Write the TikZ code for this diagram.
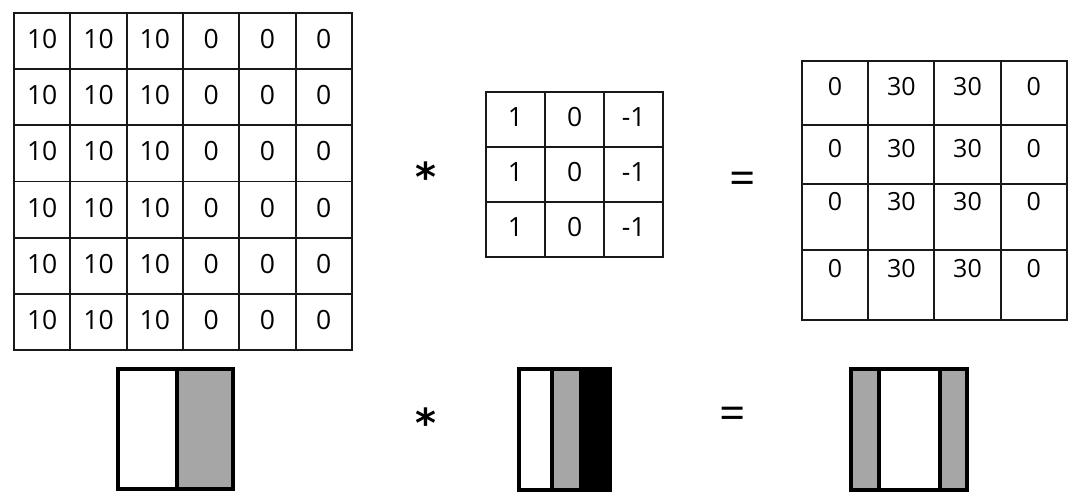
\documentclass[tikz,border=0pt]{standalone}
\usepackage{fontspec}
\setmainfont{Open Sans}
\newfontfamily\symfont{DejaVu Sans}
\begin{document}
\begin{tikzpicture}[x=1pt,y=-1pt,
  gridline/.style={draw=black!90, line width=1.9pt},
  num/.style={inner sep=0pt, font=\fontsize{26.5}{26.5}\selectfont},
  outnum/.style={inner sep=0pt, font=\fontsize{25}{25}\selectfont},
  oper/.style={inner sep=0pt, font=\symfont\bfseries\fontsize{40}{40}\selectfont},
  eqsign/.style={inner sep=0pt, font=\fontsize{46}{46}\selectfont},
  thick box/.style={draw=black, line width=4pt, line join=miter},
  shade/.style={fill=black!35}]
\useasboundingbox (0,0) rectangle (1080,503);
% input image 6x6
\foreach \r in {0,...,5}{
  \foreach \c in {0,...,5}{
    \pgfmathsetmacro\xa{14+56.33*\c}
    \pgfmathsetmacro\xb{14+56.33*(\c+1)}
    \pgfmathsetmacro\ya{13+56.17*\r}
    \pgfmathsetmacro\yb{13+56.17*(\r+1)}
    \pgfmathsetmacro\xm{(\xa+\xb)/2}
    \pgfmathsetmacro\ym{(\ya+\yb)/2-2}
    \draw[gridline] (\xa,\ya) rectangle (\xb,\yb);
    \ifnum\c<3
      \node[num] (in-\r-\c) at (\xm,\ym) {10};
    \else
      \node[num] (in-\r-\c) at (\xm,\ym) {0};
    \fi
  }
}
% filter 3x3
\foreach \r in {0,1,2}{
  \foreach \c/\xa/\xb/\v in {0/485.7/545.3/1, 1/545.3/604.3/0, 2/604.3/663/-1}{
    \pgfmathsetmacro\ya{91.7+55*\r}
    \pgfmathsetmacro\yb{91.7+55*(\r+1)}
    \pgfmathsetmacro\xm{(\xa+\xb)/2}
    \pgfmathsetmacro\ym{(\ya+\yb)/2-2.5}
    \draw[gridline] (\xa,\ya) rectangle (\xb,\yb);
    \node[num] (f-\r-\c) at (\xm,\ym) {\v};
  }
}
% output 4x4
\foreach \r/\ya/\yb/\ym in {0/61/125/86.7, 1/125/184.3/148.7, 2/184.3/250/201.7, 3/250/320/268.3}{
  \foreach \c/\xa/\xb/\v in {0/801.7/868.3/0, 1/868.3/934.3/30, 2/934.3/1000.7/30, 3/1000.7/1066.7/0}{
    \pgfmathsetmacro\xm{(\xa+\xb)/2}
    \draw[gridline] (\xa,\ya) rectangle (\xb,\yb);
    \node[outnum] (o-\r-\c) at (\xm,\ym) {\v};
  }
}
% operators
\node[oper] (star1) at (426,176.5) {*};
\node[eqsign] (eq1) at (743,183) {=};
\node[oper] (star2) at (426,422.5) {*};
\node[eqsign] (eq2) at (732.5,418) {=};
% bottom pictograms
\fill[shade] (177.3,369.3) rectangle (232.7,489.3);
\draw[thick box] (117.7,369.3) rectangle (232.7,489.3);
\draw[thick box] (177.3,369.3) -- (177.3,489.3);
\fill[shade] (551.7,369.3) rectangle (578.5,490.3);
\fill[black] (578.5,369.3) rectangle (609.7,490.3);
\draw[thick box] (519.3,369.3) rectangle (609.7,490.3);
\draw[thick box] (551.7,369.3) -- (551.7,490.3);
\fill[shade] (851,369.3) rectangle (879,490);
\fill[shade] (940,369.3) rectangle (967.3,490);
\draw[thick box] (851,369.3) rectangle (967.3,490);
\draw[thick box] (879,369.3) -- (879,490);
\draw[thick box] (940,369.3) -- (940,490);
\end{tikzpicture}
\end{document}
